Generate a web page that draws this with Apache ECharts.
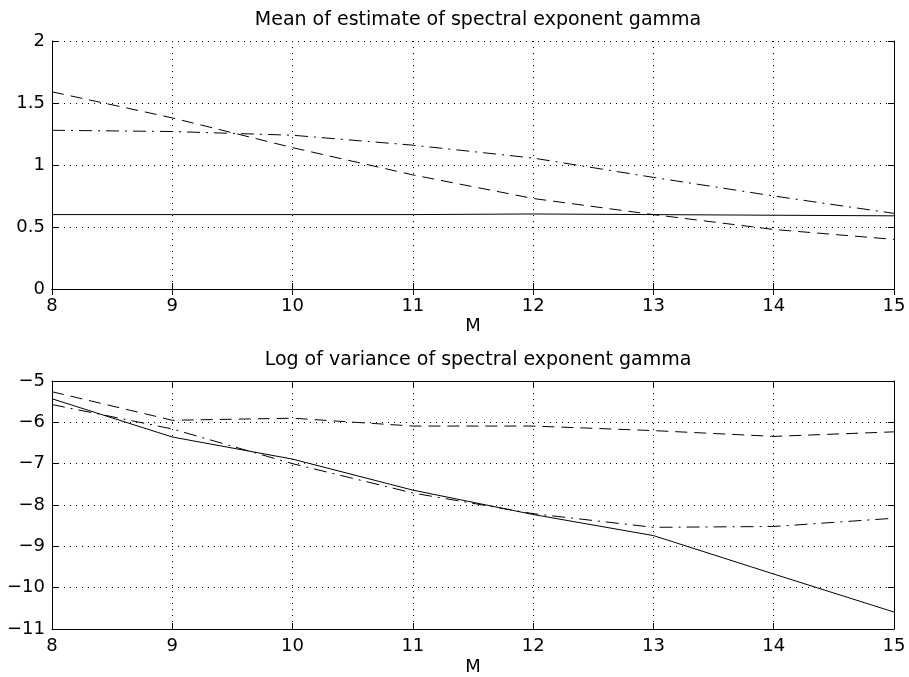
<!DOCTYPE html>
<html><head><meta charset="utf-8">
<script src="https://cdn.jsdelivr.net/npm/echarts@6/dist/echarts.min.js"></script>
<style>html,body{margin:0;padding:0;background:#fff}#c{width:909px;height:677px}</style>
</head><body><div id="c"></div>
<script>
const M = [8, 9, 10, 11, 12, 13, 14, 15];
// Top panel: mean of estimate
const meanSolid   = [0.60, 0.60, 0.60, 0.60, 0.605, 0.60, 0.595, 0.59];
const meanDashed  = [1.59, 1.38, 1.14, 0.92, 0.73, 0.60, 0.48, 0.40];
const meanDashDot = [1.28, 1.27, 1.24, 1.16, 1.056, 0.90, 0.75, 0.61];
// Bottom panel: log of variance
const varSolid   = [-5.43, -6.355, -6.89, -7.64, -8.23, -8.74, -9.67, -10.59];
const varDashed  = [-5.26, -5.95, -5.90, -6.09, -6.09, -6.20, -6.34, -6.23];
const varDashDot = [-5.57, -6.16, -7.00, -7.71, -8.21, -8.54, -8.52, -8.32];

const titleTop = 'Mean of estimate of spectral exponent gamma';
const titleBottom = 'Log of variance of spectral exponent gamma';
const xName = 'M';

const FONT = 'DejaVu Sans';
const pair = (ys) => M.map((x, i) => [x, ys[i]]);
const DASH = [12, 7];
const DASHDOT = [13, 6, 2, 6];

function xAxes(gi, nameGap) {
  return [{
    type: 'value', gridIndex: gi, min: 8, max: 15, interval: 1,
    name: xName, nameLocation: 'middle', nameGap: nameGap,
    nameTextStyle: {fontFamily: FONT, fontSize: 18, color: '#000'},
    axisLine: {show: true, lineStyle: {color: '#000', width: 1}},
    axisTick: {show: true, inside: true, length: 6, lineStyle: {color: '#000'}},
    axisLabel: {fontFamily: FONT, fontSize: 18, color: '#000', margin: 8},
    splitLine: {show: true, lineStyle: {color: '#000', type: [1, 5], width: 1}}
  }, {
    type: 'value', gridIndex: gi, min: 8, max: 15, interval: 1, position: 'top',
    axisLine: {show: true, lineStyle: {color: '#000'}},
    axisTick: {show: true, inside: true, length: 6, lineStyle: {color: '#000'}},
    axisLabel: {show: false}, splitLine: {show: false}
  }];
}
function yAxes(gi, min, max, interval) {
  const fmt = v => String(v).replace('-', '\u2212');
  return [{
    type: 'value', gridIndex: gi, min: min, max: max, interval: interval,
    axisLine: {show: true, lineStyle: {color: '#000', width: 1}},
    axisTick: {show: true, inside: true, length: 6, lineStyle: {color: '#000'}},
    axisLabel: {fontFamily: FONT, fontSize: 18, color: '#000', margin: 7, formatter: fmt},
    splitLine: {show: true, lineStyle: {color: '#000', type: [1, 5], width: 1}}
  }, {
    type: 'value', gridIndex: gi, min: min, max: max, interval: interval, position: 'right',
    axisLine: {show: true, lineStyle: {color: '#000'}},
    axisTick: {show: true, inside: true, length: 6, lineStyle: {color: '#000'}},
    axisLabel: {show: false}, splitLine: {show: false}
  }];
}
function line(xi, yi, data, type) {
  return {type: 'line', xAxisIndex: xi, yAxisIndex: yi, data: data, symbol: 'none',
    silent: true, animation: false,
    lineStyle: {color: '#000', width: 1, type: type}};
}

const chart = echarts.init(document.getElementById('c'), null, {renderer: 'canvas'});
chart.setOption({
  backgroundColor: '#fff',
  animation: false,
  title: [
    {text: titleTop, left: 473, top: 6, textAlign: 'center',
     textStyle: {fontFamily: FONT, fontSize: 19, fontWeight: 'normal', color: '#000'}},
    {text: titleBottom, left: 473, top: 346, textAlign: 'center',
     textStyle: {fontFamily: FONT, fontSize: 19, fontWeight: 'normal', color: '#000'}}
  ],
  grid: [
    {left: 52, top: 41, width: 842, height: 248, show: false},
    {left: 52, top: 381, width: 842, height: 248, show: false}
  ],
  xAxis: [...xAxes(0, 28), ...xAxes(1, 29)],
  yAxis: [...yAxes(0, 0, 2, 0.5), ...yAxes(1, -11, -5, 1)],
  series: [
    line(0, 0, pair(meanSolid), 'solid'),
    line(0, 0, pair(meanDashed), DASH),
    line(0, 0, pair(meanDashDot), DASHDOT),
    line(2, 2, pair(varSolid), 'solid'),
    line(2, 2, pair(varDashed), DASH),
    line(2, 2, pair(varDashDot), DASHDOT)
  ]
});
</script></body></html>
